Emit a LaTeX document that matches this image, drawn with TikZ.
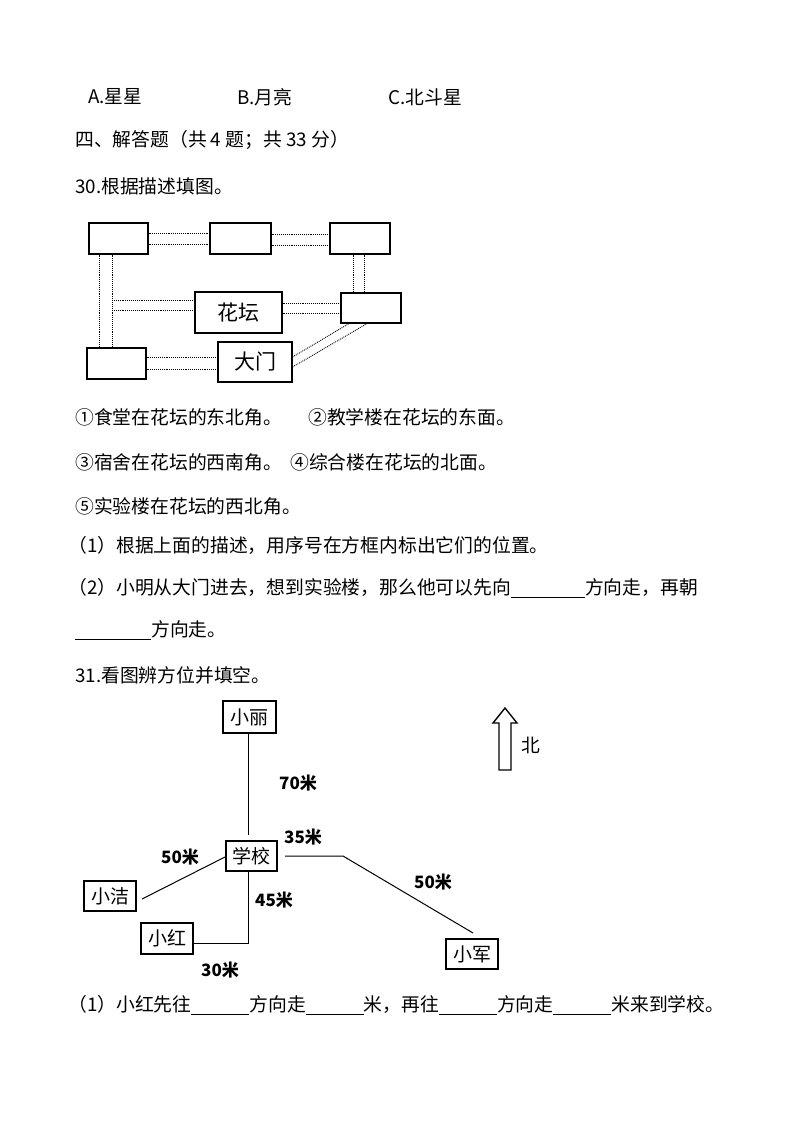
\documentclass[tikz,border=0pt]{standalone}
\usepackage{fontspec}
\setmainfont{Noto Sans CJK SC}
\newcommand{\blank}[1]{\rule[-3pt]{#1pt}{0.6pt}}
\begin{document}
\begin{tikzpicture}[x=1pt,y=-1pt,
  txt/.style={anchor=west,inner sep=0,font=\fontsize{18.8}{22}\selectfont},
  bx/.style={draw,line width=1.1pt,inner sep=0},
  dl/.style={densely dotted,line width=0.9pt},
  lab/.style={font=\fontsize{17}{19}\selectfont\bfseries,inner sep=1pt},
  pn/.style={draw,line width=1.6pt,inner sep=0,font=\fontsize{19}{21}\selectfont},
  ln/.style={line width=1pt}]
\useasboundingbox (0,0) rectangle (800,1131);
\node[txt] (a) at (88,97) {A.星星};
\node[txt] (b) at (237,97) {B.月亮};
\node[txt] (c) at (388,97) {C.北斗星};
\node[txt] (h4) at (75,140) {四、解答题（共 4 题；共 33 分）};
\node[txt] (q30) at (75,186) {30.根据描述填图。};
% diagram 1
\node[bx,minimum width=59,minimum height=31] (tl) at (118.5,238.5) {};
\node[bx,minimum width=61,minimum height=31] (tm) at (240.5,238.5) {};
\node[bx,minimum width=60,minimum height=31] (tr) at (360,238.5) {};
\node[bx,minimum width=60,minimum height=30] (rm) at (371,308) {};
\node[bx,minimum width=87,minimum height=41,font=\fontsize{21}{24}\selectfont] (hua) at (238.5,312.5) {花坛};
\node[bx,minimum width=59,minimum height=31] (bl) at (116.5,363.5) {};
\node[bx,minimum width=74,minimum height=40,font=\fontsize{21}{24}\selectfont] (dm) at (255,362) {大门};
\draw[dl] (tl.east|-0,233) -- (tm.west|-0,233);
\draw[dl] (tl.east|-0,244) -- (tm.west|-0,244);
\draw[dl] (tm.east|-0,234) -- (tr.west|-0,234);
\draw[dl] (tm.east|-0,245) -- (tr.west|-0,245);
\draw[dl] (99,0|-tl.south) -- (99,0|-bl.north);
\draw[dl] (112,0|-tl.south) -- (112,0|-bl.north);
\draw[dl] (353,0|-tr.south) -- (353,0|-rm.north);
\draw[dl] (364,0|-tr.south) -- (364,0|-rm.north);
\coordinate (fl1) at (112,300); \coordinate (fl2) at (112,310);
\draw[dl] (fl1) -- (hua.west|-fl1);
\draw[dl] (fl2) -- (hua.west|-fl2);
\draw[dl] (hua.east|-0,303) -- (rm.west|-0,303);
\draw[dl] (hua.east|-0,313) -- (rm.west|-0,313);
\draw[dl] (bl.east|-0,357) -- (dm.west|-0,357);
\draw[dl] (bl.east|-0,369) -- (dm.west|-0,369);
\coordinate (r1) at (350,323); \coordinate (r2) at (368,323);
\draw[dl] (dm.east|-0,357) -- (r1);
\draw[dl] (dm.east|-0,367) -- (r2);
\node[txt] (s1) at (75,417) {①食堂在花坛的东北角。};
\node[txt] (s2) at (308,417) {②教学楼在花坛的东面。};
\node[txt] (s3) at (75,462) {③宿舍在花坛的西南角。};
\node[txt] (s4) at (290,462) {④综合楼在花坛的北面。};
\node[txt] (s5) at (75,506) {⑤实验楼在花坛的西北角。};
\node[txt] (p1) at (68,545) {（1）根据上面的描述，用序号在方框内标出它们的位置。};
\node[txt] (p2) at (68,588) {（2）小明从大门进去，想到实验楼，那么他可以先向\blank{74}方向走，再朝};
\node[txt] (p2b) at (75,630) {\blank{76}方向走。};
\node[txt] (q31) at (75,675) {31.看图辨方位并填空。};
% diagram 2
\node[pn,minimum width=53,minimum height=32] (li) at (249.5,717) {小丽};
\node[pn,minimum width=51,minimum height=30] (xx) at (251.5,856) {学校};
\node[pn,minimum width=52,minimum height=30] (jun) at (472,954) {小军};
\node[pn,minimum width=52,minimum height=30] (jie) at (110,896) {小洁};
\node[pn,minimum width=52,minimum height=31] (hong) at (167,938.5) {小红};
\draw[ln] (li.south-|248,0) -- (248,835);
\coordinate (k1) at (343,856); \coordinate (k2) at (473,933);
\draw[ln] (285,856) -- (k1) -- (k2);
\draw[ln] (142,899) -- (225,857);
\coordinate (k3) at (248,943);
\draw[ln] (xx.south-|248,0) -- (k3) -- (hong.east|-k3);
\node[lab] (l70) at (298,783) {70米};
\node[lab] (l35) at (303,837) {35米};
\node[lab] (l50r) at (433,882) {50米};
\node[lab] (l50l) at (180,857) {50米};
\node[lab] (l45) at (274,900) {45米};
\node[lab] (l30) at (220,970) {30米};
\draw[line width=1.4pt] (499,770) -- (499,723) -- (493,723) -- (505,708) -- (517,723) -- (511,723) -- (511,770) -- cycle;
\node[txt] (bei) at (521,745) {北};
\node[txt] (q1) at (68,1005) {（1）小红先往\blank{58}方向走\blank{58}米，再往\blank{58}方向走\blank{58}米来到学校。};
\end{tikzpicture}
\end{document}
